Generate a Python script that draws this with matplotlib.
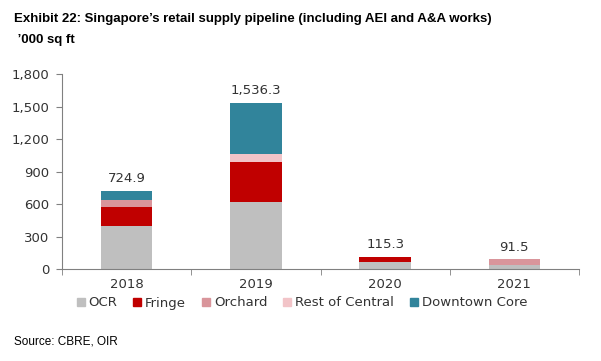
import matplotlib.pyplot as plt
import numpy as np
from matplotlib.patches import Patch

years = ['2018', '2019', '2020', '2021']
ocr = [400, 620, 70, 40]
fringe = [172, 370, 45.3, 0]
orchard = [70, 0, 0, 51.5]
rest_central = [0, 75, 0, 0]
downtown = [82.9, 471.3, 0, 0]
totals = [724.9, 1536.3, 115.3, 91.5]

series = [('OCR', ocr, '#bfbfbf'),
          ('Fringe', fringe, '#c00000'),
          ('Orchard', orchard, '#d9959b'),
          ('Rest of Central', rest_central, '#f2c4c8'),
          ('Downtown Core', downtown, '#31849b')]

fig = plt.figure(figsize=(6.01, 3.61), dpi=100)
ax = fig.add_axes([62/601, 1-269.3/361, 517/601, 195/361])

x = np.arange(len(years))
bottom = np.zeros(len(years))
for name, vals, col in series:
    ax.bar(x, vals, 0.4, bottom=bottom, color=col, label=name)
    bottom = bottom + np.array(vals)

for xi, t in zip(x, totals):
    ax.annotate(f'{t:,.1f}', (xi, t), xytext=(0, 4), textcoords='offset points',
                ha='center', va='bottom', fontsize=9.5, color='#333333')

ax.set_xlim(-0.5, len(years)-0.5)
ax.set_ylim(0, 1800)
ax.set_yticks(np.arange(0, 1801, 300))
ax.set_yticklabels([f'{v:,}' for v in range(0, 1801, 300)])
ax.set_xticks(x)
ax.set_xticklabels(years)
ax.set_xticks(np.arange(-0.5, len(years), 1), minor=True)
ax.tick_params(axis='x', which='major', length=0, pad=6, labelsize=9.5, colors='#333333')
ax.tick_params(axis='x', which='minor', length=4, color='#808080')
ax.tick_params(axis='y', length=4, color='#808080', labelsize=9.5, labelcolor='#333333', pad=5)
for s in ['top', 'right']:
    ax.spines[s].set_visible(False)
for s in ['left', 'bottom']:
    ax.spines[s].set_color('#808080')

handles = [Patch(color=c, label=n) for n, v, c in series]
fig.legend(handles=handles, loc='center', bbox_to_anchor=(302/601, 1-303/361), ncol=5,
           frameon=False, handlelength=0.6, handleheight=0.6, handletextpad=0.3,
           columnspacing=1.2, fontsize=9.5, labelcolor='#333333')

fig.text(14/601, 1-19/361, 'Exhibit 22: Singapore\u2019s retail supply pipeline (including AEI and A&A works)',
         fontsize=9.5, fontweight='bold', family='Liberation Sans', va='center')
fig.text(14/601, 1-40/361, ' \u2019000 sq ft', fontsize=9.5, fontweight='bold',
         family='Liberation Sans', va='center')
fig.text(14/601, 1-341/361, 'Source: CBRE, OIR', fontsize=8.5, family='Liberation Sans', va='center')

fig.savefig('out.png', dpi=100)
